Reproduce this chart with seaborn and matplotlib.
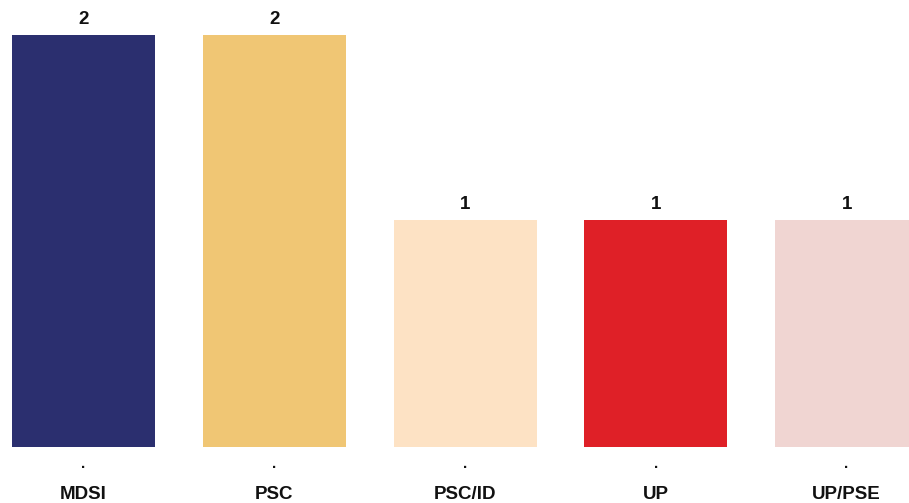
import matplotlib
matplotlib.use("Agg")
import matplotlib.pyplot as plt
import seaborn as sns
import pandas as pd

# Data
parties = ["MDSI", "PSC", "PSC/ID", "UP", "UP/PSE"]
seats = [2, 2, 1, 1, 1]
colors = ["#2b2f6f", "#f0c674", "#fde2c4", "#df2027", "#f0d5d2"]

df = pd.DataFrame({"party": parties, "seats": seats})

sns.set_style("white")
plt.rcParams["font.family"] = ["Liberation Sans Narrow", "Liberation Sans", "DejaVu Sans"]
plt.rcParams["text.color"] = "#111111"

fig = plt.figure(figsize=(9.09, 5.03), dpi=100)
ax = fig.add_axes([0, 0, 1, 1])

sns.barplot(data=df, x="party", y="seats", hue="party", palette=colors,
            width=0.75, legend=False, ax=ax, saturation=1, linewidth=0)

# bars sit on a baseline slightly below zero
base = -0.227
for p in ax.patches:
    h = p.get_height()
    p.set_y(base)
    p.set_height(h - base)

for p, v in zip(ax.patches, seats):
    ax.text(p.get_x() + p.get_width() / 2, v + 0.035, str(v),
            ha="center", va="bottom", fontsize=13.5, fontweight="bold",
            family=["Liberation Sans", "DejaVu Sans"])

ax.set_xlim(-0.4377, 4.327)
ax.set_ylim(-0.530, 2.189)

# category labels under the bars
for i, name in enumerate(parties):
    ax.text(i, -0.34, ".", ha="center", va="baseline", fontsize=11, fontweight="bold")
    ax.text(i, -0.51, name, ha="center", va="baseline", fontsize=13.5, fontweight="bold")

ax.set_xticks([])
ax.set_yticks([])
ax.set_xlabel("")
ax.set_ylabel("")
sns.despine(left=True, bottom=True)

fig.savefig("out.png", dpi=100)
